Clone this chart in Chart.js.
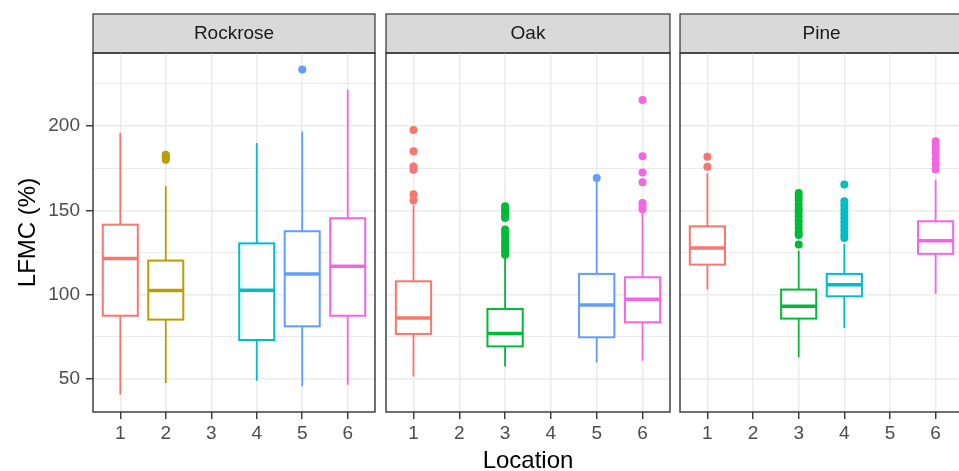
<!DOCTYPE html>
<html>
<head>
<meta charset="utf-8">
<script src="https://cdn.jsdelivr.net/npm/chart.js"></script>
<style>
  html, body { margin: 0; padding: 0; background: #fff; overflow: hidden; }
  body { width: 959px; height: 471px; position: relative; }
  canvas { position: absolute; top: 0; }
</style>
</head>
<body>
<canvas id="rockrose" width="379" height="471" style="left:0px"></canvas>
<canvas id="oak" width="292" height="471" style="left:382px"></canvas>
<canvas id="pine" width="291" height="471" style="left:676px"></canvas>
<script>
// Data
const locations = [1, 2, 3, 4, 5, 6];
const colors = ['#F8766D', '#B79F00', '#00BA38', '#00BFC4', '#619CFF', '#F564E3'];

// Rockrose
const rockLow    = [40.7, 47.6, null, 49.0, 45.6, 46.6];
const rockQ1     = [87.5, 85.2, null, 73.1, 81.2, 87.5];
const rockMedian = [121.4, 102.4, null, 102.6, 112.3, 116.8];
const rockQ3     = [141.5, 120.2, null, 130.4, 137.6, 145.3];
const rockHigh   = [196.0, 164.3, null, 190.0, 196.7, 221.7];
const rockOut    = [[], [180, 181, 182, 183], [], [], [233.5], []];

// Oak
const oakLow    = [51.5, null, 57.4, null, 59.8, 60.8];
const oakQ1     = [76.7, null, 69.3, null, 74.7, 83.6];
const oakMedian = [86.2, null, 77.0, null, 93.9, 97.2];
const oakQ3     = [107.9, null, 91.5, null, 112.3, 110.3];
const oakHigh   = [153.0, null, 122.0, null, 167.0, 149.0];
const oakOut    = [
  [197.6, 185, 176, 174, 159.6, 155.8],
  [],
  [152.4, 150.5, 148.5, 146.5, 145.5, 138.6, 136.5, 134.5, 132, 130, 128, 126, 123.7],
  [],
  [169.2],
  [215.5, 182, 172.4, 166.6, 154.4, 152.5, 150.6]
];

// Pine
const pineLow    = [103.0, null, 62.8, 80.2, null, 100.4];
const pineQ1     = [117.8, null, 85.8, 99.0, null, 124.2];
const pineMedian = [127.7, null, 93.1, 105.9, null, 132.0];
const pineQ3     = [140.5, null, 103.0, 112.3, null, 143.5];
const pineHigh   = [172.0, null, 126.0, 130.0, null, 168.2];
const pineOut    = [
  [181.7, 175.8],
  [],
  [160.3, 158, 156, 153.5, 151, 149, 146.5, 144, 142, 139.5, 137, 135.4, 129.7],
  [165.3, 155.4, 153, 150.5, 148, 145.5, 143, 140.5, 138, 135.5, 133.6],
  [],
  [191, 188.5, 186, 183.5, 180.5, 177.5, 174.2]
];

const yMin = 30.4;
const yMax = 243.3;
const yLabels = [50, 100, 150, 200];
const boxWidth = 0.77;

const FONT = "'Liberation Sans', Arial, sans-serif";

// draws the boxes + whiskers with the chart's scales
const boxPlugin = {
  id: 'boxes',
  beforeDatasetsDraw(chart, args, opts) {
    const { ctx } = chart;
    const x = chart.scales.x, y = chart.scales.y;
    const s = opts.stats;
    ctx.save();
    locations.forEach((loc, i) => {
      if (s.median[i] == null) return;
      const cx = x.getPixelForValue(loc);
      const left = x.getPixelForValue(loc - boxWidth / 2);
      const right = x.getPixelForValue(loc + boxWidth / 2);
      const yq1 = y.getPixelForValue(s.q1[i]);
      const yq3 = y.getPixelForValue(s.q3[i]);
      ctx.strokeStyle = colors[i];
      ctx.lineWidth = 1.8;
      // whiskers
      ctx.beginPath();
      ctx.moveTo(cx, y.getPixelForValue(s.high[i]));
      ctx.lineTo(cx, yq3);
      ctx.moveTo(cx, yq1);
      ctx.lineTo(cx, y.getPixelForValue(s.low[i]));
      ctx.stroke();
      // box
      ctx.fillStyle = '#fff';
      ctx.fillRect(left, yq3, right - left, yq1 - yq3);
      ctx.lineWidth = 2;
      ctx.strokeRect(left, yq3, right - left, yq1 - yq3);
      // median
      ctx.lineWidth = 3.5;
      const ym = y.getPixelForValue(s.median[i]);
      ctx.beginPath();
      ctx.moveTo(left, ym);
      ctx.lineTo(right, ym);
      ctx.stroke();
    });
    ctx.restore();
  }
};

// grey strip behind the facet title + panel border
const panelPlugin = {
  id: 'panel',
  beforeDraw(chart) {
    const { ctx, chartArea } = chart;
    ctx.save();
    ctx.fillStyle = '#d9d9d9';
    ctx.fillRect(chartArea.left, 14, chartArea.right - chartArea.left, chartArea.top - 14);
    ctx.strokeStyle = '#333';
    ctx.lineWidth = 1.2;
    ctx.strokeRect(chartArea.left, 14, chartArea.right - chartArea.left, chartArea.top - 14);
    ctx.restore();
  },
  afterDraw(chart) {
    const { ctx, chartArea } = chart;
    ctx.save();
    ctx.strokeStyle = '#333';
    ctx.lineWidth = 1.4;
    ctx.strokeRect(chartArea.left, chartArea.top, chartArea.right - chartArea.left, chartArea.bottom - chartArea.top);
    ctx.restore();
  }
};

function makePanel(id, name, stats, outliers, first, showXTitle) {
  const datasets = locations.map((loc, i) => ({
    label: String(loc),
    data: outliers[i].map(v => ({ x: loc, y: v })),
    backgroundColor: colors[i],
    borderWidth: 0,
    pointRadius: 4
  }));

  new Chart(document.getElementById(id), {
    type: 'scatter',
    data: { datasets: datasets },
    plugins: [panelPlugin, boxPlugin],
    options: {
      responsive: false,
      animation: false,
      layout: { padding: { top: 14, left: 0, right: 0, bottom: 0 } },
      plugins: {
        legend: { display: false },
        tooltip: { enabled: false },
        title: {
          display: true,
          text: name,
          fullSize: false,
          color: '#1a1a1a',
          font: { family: FONT, size: 19, weight: 'normal', lineHeight: 1.2 },
          padding: { top: 8.6, bottom: 7.6 }
        },
        boxes: { stats: stats }
      },
      scales: {
        x: {
          type: 'linear',
          min: 0.4,
          max: 6.6,
          afterFit: s => { s.height = 59; },
          afterBuildTicks: s => { s.ticks = locations.map(v => ({ value: v })); },
          ticks: {
            autoSkip: false,
            maxRotation: 0,
            padding: 3,
            color: '#4d4d4d',
            font: { family: FONT, size: 19 },
            callback: v => String(v)
          },
          grid: { color: '#ebebeb', lineWidth: 1.5, tickLength: 7, tickColor: '#333', tickWidth: 1.4 },
          border: { display: false },
          title: {
            display: showXTitle,
            text: 'Location',
            color: '#000',
            font: { family: FONT, size: 24, lineHeight: 0.8 },
            padding: { top: 0, bottom: 0 }
          }
        },
        y: {
          min: yMin,
          max: yMax,
          afterFit: s => { s.width = first ? 93 : 0; },
          ticks: {
            display: first,
            stepSize: 25,
            includeBounds: false,
            padding: 6,
            color: '#4d4d4d',
            font: { family: FONT, size: 19 },
            callback: v => yLabels.includes(v) ? String(v) : ''
          },
          grid: {
            color: '#ebebeb',
            lineWidth: c => (c.tick && yLabels.includes(c.tick.value)) ? 1.5 : 1,
            drawTicks: first,
            tickLength: 7,
            tickWidth: 1.4,
            tickColor: c => (c.tick && yLabels.includes(c.tick.value)) ? '#333' : 'rgba(0,0,0,0)'
          },
          border: { display: false },
          title: {
            display: first,
            text: 'LFMC (%)',
            color: '#000',
            font: { family: FONT, size: 24, lineHeight: 1.2 },
            padding: { top: 14, bottom: 0 }
          }
        }
      }
    }
  });
}

makePanel('rockrose', 'Rockrose',
  { low: rockLow, q1: rockQ1, median: rockMedian, q3: rockQ3, high: rockHigh },
  rockOut, true, false);
makePanel('oak', 'Oak',
  { low: oakLow, q1: oakQ1, median: oakMedian, q3: oakQ3, high: oakHigh },
  oakOut, false, true);
makePanel('pine', 'Pine',
  { low: pineLow, q1: pineQ1, median: pineMedian, q3: pineQ3, high: pineHigh },
  pineOut, false, false);
</script>
</body>
</html>
